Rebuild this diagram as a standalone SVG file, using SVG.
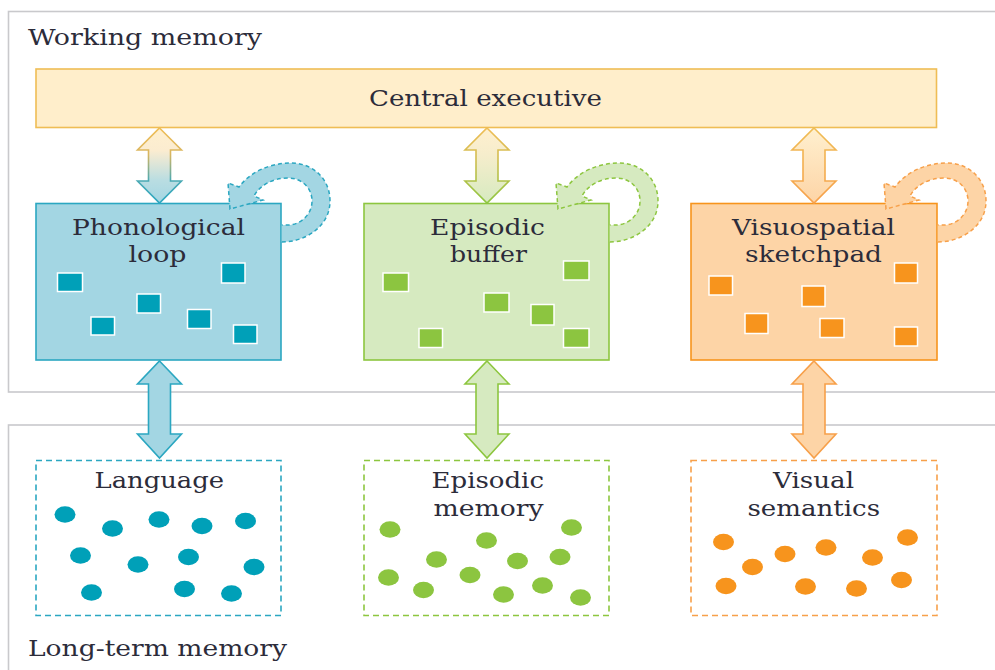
<svg xmlns="http://www.w3.org/2000/svg" xmlns:xlink="http://www.w3.org/1999/xlink" width="995" height="670" viewBox="0 0 995 670">
<style>
  .frame { fill: none; stroke: #c9c9cc; stroke-width: 1.6; }
  .lbl { font-family: "DejaVu Serif", "Liberation Serif", serif; font-size: 22px; fill: #2c2c3a; }
  .ce { fill: #ffeecb; stroke: #efbd55; stroke-width: 1.6; }
  .pbox { fill: #a3d6e3; stroke: #2ba7c1; stroke-width: 1.6; }
  .ebox { fill: #d6eac0; stroke: #8dc63f; stroke-width: 1.6; }
  .vbox { fill: #fdd4a6; stroke: #f7941d; stroke-width: 1.6; }
  .psq { fill: #00a0b8; stroke: #ffffff; stroke-width: 1.5; }
  .esq { fill: #8cc540; stroke: #ffffff; stroke-width: 1.5; }
  .vsq { fill: #f7941d; stroke: #ffffff; stroke-width: 1.5; }
  .pdash { fill: #ffffff; stroke: #2ba7c1; stroke-width: 1.6; stroke-dasharray: 6 4; }
  .edash { fill: #ffffff; stroke: #8dc63f; stroke-width: 1.6; stroke-dasharray: 6 4; }
  .vdash { fill: #ffffff; stroke: #f7a04a; stroke-width: 1.6; stroke-dasharray: 6 4; }
  .pdot { fill: #00a0b8; }
  .edot { fill: #8cc540; }
  .vdot { fill: #f7941d; }
  .ploop { fill: #a3d6e3; stroke: #2ba7c1; stroke-width: 1.5; stroke-dasharray: 4 3; }
  .eloop { fill: #d6eac0; stroke: #8dc63f; stroke-width: 1.5; stroke-dasharray: 4 3; }
  .vloop { fill: #fdd4a6; stroke: #f7a04a; stroke-width: 1.5; stroke-dasharray: 4 3; }
  .parr { fill: #a3d6e3; stroke: #2ba7c1; stroke-width: 1.6; }
  .earr { fill: #d6eac0; stroke: #8dc63f; stroke-width: 1.6; }
  .varr { fill: #fdd4a6; stroke: #f7a04a; stroke-width: 1.6; }
</style>
<defs>
  <linearGradient id="gpf" x1="0" y1="0" x2="0" y2="1">
    <stop offset="0" stop-color="#fff0cf"/><stop offset="0.3" stop-color="#fbecd0"/><stop offset="0.7" stop-color="#b9dde2"/><stop offset="1" stop-color="#a3d6e3"/>
  </linearGradient>
  <linearGradient id="gps" x1="0" y1="0" x2="0" y2="1">
    <stop offset="0" stop-color="#efbd55"/><stop offset="0.35" stop-color="#d9b660"/><stop offset="0.7" stop-color="#4aa9b3"/><stop offset="1" stop-color="#2ba7c1"/>
  </linearGradient>
  <linearGradient id="gef" x1="0" y1="0" x2="0" y2="1">
    <stop offset="0" stop-color="#fff0cf"/><stop offset="0.35" stop-color="#f6edcc"/><stop offset="1" stop-color="#d6eac0"/>
  </linearGradient>
  <linearGradient id="ges" x1="0" y1="0" x2="0" y2="1">
    <stop offset="0" stop-color="#efbd55"/><stop offset="0.4" stop-color="#d2bd50"/><stop offset="1" stop-color="#8dc63f"/>
  </linearGradient>
  <linearGradient id="gvf" x1="0" y1="0" x2="0" y2="1">
    <stop offset="0" stop-color="#fff0cf"/><stop offset="1" stop-color="#fdd4a6"/>
  </linearGradient>
  <linearGradient id="gvs" x1="0" y1="0" x2="0" y2="1">
    <stop offset="0" stop-color="#efbd55"/><stop offset="1" stop-color="#f7a04a"/>
  </linearGradient>
  <path id="upArrow" d="M0,128 L22,150 L11,150 L11,181 L22,181 L0,203 L-22,181 L-11,181 L-11,150 L-22,150 Z"/>
  <path id="lowArrow" d="M0,361 L22,384 L11,384 L11,434 L22,434 L0,458 L-22,434 L-11,434 L-11,384 L-22,384 Z"/>
  <path id="loop" d="M281.8,242 C306,242 330,226 330,201 C330,178 312,163 291,163 C270,163 250,172 239,187 L228,183 L230,209 L263,200 L254,196 C260,185 273,178 288,178 C302,178 312,188 312,201 C312,215 300,225 288,225 L281.8,225"/>
</defs>

<g id="frames">
  <rect class="frame" x="8.5" y="11.5" width="1000" height="380.5"/>
  <rect class="frame" x="8.5" y="425" width="1000" height="300"/>
  <text class="lbl" x="28" y="45" textLength="234" lengthAdjust="spacingAndGlyphs">Working memory</text>
  <text class="lbl" x="28" y="656" textLength="259" lengthAdjust="spacingAndGlyphs">Long-term memory</text>
</g>

<g id="central-executive">
  <rect class="ce" x="36" y="69" width="900.5" height="58.5"/>
  <text class="lbl" x="369" y="106" textLength="233" lengthAdjust="spacingAndGlyphs">Central executive</text>
</g>

<g id="phonological-loop">
  <rect class="pbox" x="36" y="203.5" width="245" height="156.5"/>
  <text class="lbl" x="72" y="235" textLength="173" lengthAdjust="spacingAndGlyphs">Phonological</text>
  <text class="lbl" x="128.5" y="262" textLength="58" lengthAdjust="spacingAndGlyphs">loop</text>
  <rect class="psq" x="57.5" y="273" width="25" height="18.5"/>
  <rect class="psq" x="221.5" y="263" width="23.5" height="20"/>
  <rect class="psq" x="137" y="294" width="23.5" height="19"/>
  <rect class="psq" x="91" y="317" width="23.5" height="18"/>
  <rect class="psq" x="187.5" y="309.5" width="23.5" height="19"/>
  <rect class="psq" x="233.5" y="325" width="23.5" height="18.5"/>
  <use xlink:href="#loop" class="ploop"/>
</g>

<g id="episodic-buffer">
  <rect class="ebox" x="364" y="203.5" width="245" height="156.5"/>
  <text class="lbl" x="430" y="235" textLength="115" lengthAdjust="spacingAndGlyphs">Episodic</text>
  <text class="lbl" x="450" y="262" textLength="77" lengthAdjust="spacingAndGlyphs">buffer</text>
  <rect class="esq" x="383" y="273" width="25.5" height="18.5"/>
  <rect class="esq" x="563.5" y="261" width="25.5" height="19"/>
  <rect class="esq" x="484" y="293" width="25" height="19"/>
  <rect class="esq" x="531" y="304.5" width="23" height="20.5"/>
  <rect class="esq" x="419" y="328.5" width="23.5" height="19"/>
  <rect class="esq" x="563.5" y="328.5" width="25.5" height="19"/>
  <use xlink:href="#loop" class="eloop" transform="translate(328,0)"/>
</g>

<g id="visuospatial-sketchpad">
  <rect class="vbox" x="691" y="203.5" width="246" height="156.5"/>
  <text class="lbl" x="732" y="235" textLength="163" lengthAdjust="spacingAndGlyphs">Visuospatial</text>
  <text class="lbl" x="745" y="262" textLength="137" lengthAdjust="spacingAndGlyphs">sketchpad</text>
  <rect class="vsq" x="709" y="276" width="23.5" height="19"/>
  <rect class="vsq" x="894.5" y="263" width="23" height="20"/>
  <rect class="vsq" x="802" y="286" width="23" height="20.5"/>
  <rect class="vsq" x="745" y="313.5" width="23" height="20"/>
  <rect class="vsq" x="820" y="318.5" width="24" height="19"/>
  <rect class="vsq" x="894.5" y="327" width="23" height="19"/>
  <use xlink:href="#loop" class="vloop" transform="translate(656,0)"/>
</g>

<g id="language">
  <rect class="pdash" x="36" y="460.5" width="245" height="155"/>
  <text class="lbl" x="94.5" y="488" textLength="129.5" lengthAdjust="spacingAndGlyphs">Language</text>
  <ellipse class="pdot" cx="65" cy="514.5" rx="10.5" ry="8.3"/>
  <ellipse class="pdot" cx="112.5" cy="528.5" rx="10.5" ry="8.3"/>
  <ellipse class="pdot" cx="159" cy="519.5" rx="10.5" ry="8.3"/>
  <ellipse class="pdot" cx="202" cy="526" rx="10.5" ry="8.3"/>
  <ellipse class="pdot" cx="245.5" cy="521" rx="10.5" ry="8.3"/>
  <ellipse class="pdot" cx="80.5" cy="555.5" rx="10.5" ry="8.3"/>
  <ellipse class="pdot" cx="138" cy="564.5" rx="10.5" ry="8.3"/>
  <ellipse class="pdot" cx="188.5" cy="557" rx="10.5" ry="8.3"/>
  <ellipse class="pdot" cx="254" cy="567" rx="10.5" ry="8.3"/>
  <ellipse class="pdot" cx="91.5" cy="592.5" rx="10.5" ry="8.3"/>
  <ellipse class="pdot" cx="184.5" cy="589" rx="10.5" ry="8.3"/>
  <ellipse class="pdot" cx="231.5" cy="593.5" rx="10.5" ry="8.3"/>
</g>

<g id="episodic-memory">
  <rect class="edash" x="364" y="460.5" width="245" height="155"/>
  <text class="lbl" x="431.5" y="488" textLength="112.5" lengthAdjust="spacingAndGlyphs">Episodic</text>
  <text class="lbl" x="433.5" y="516" textLength="110" lengthAdjust="spacingAndGlyphs">memory</text>
  <ellipse class="edot" cx="390" cy="529.5" rx="10.5" ry="8.3"/>
  <ellipse class="edot" cx="486.5" cy="540.5" rx="10.5" ry="8.3"/>
  <ellipse class="edot" cx="571.5" cy="527.5" rx="10.5" ry="8.3"/>
  <ellipse class="edot" cx="436.5" cy="559.5" rx="10.5" ry="8.3"/>
  <ellipse class="edot" cx="517.5" cy="561" rx="10.5" ry="8.3"/>
  <ellipse class="edot" cx="560" cy="557" rx="10.5" ry="8.3"/>
  <ellipse class="edot" cx="388.5" cy="577.5" rx="10.5" ry="8.3"/>
  <ellipse class="edot" cx="470" cy="575" rx="10.5" ry="8.3"/>
  <ellipse class="edot" cx="423.5" cy="590" rx="10.5" ry="8.3"/>
  <ellipse class="edot" cx="503.5" cy="594.5" rx="10.5" ry="8.3"/>
  <ellipse class="edot" cx="542.5" cy="585.5" rx="10.5" ry="8.3"/>
  <ellipse class="edot" cx="580.5" cy="597.5" rx="10.5" ry="8.3"/>
</g>

<g id="visual-semantics">
  <rect class="vdash" x="691" y="460.5" width="246" height="155"/>
  <text class="lbl" x="773" y="488" textLength="81" lengthAdjust="spacingAndGlyphs">Visual</text>
  <text class="lbl" x="747.5" y="516" textLength="132.5" lengthAdjust="spacingAndGlyphs">semantics</text>
  <ellipse class="vdot" cx="723.5" cy="542" rx="10.5" ry="8.3"/>
  <ellipse class="vdot" cx="785" cy="554" rx="10.5" ry="8.3"/>
  <ellipse class="vdot" cx="826" cy="547.5" rx="10.5" ry="8.3"/>
  <ellipse class="vdot" cx="907.5" cy="537.5" rx="10.5" ry="8.3"/>
  <ellipse class="vdot" cx="752.5" cy="567" rx="10.5" ry="8.3"/>
  <ellipse class="vdot" cx="872.5" cy="557.5" rx="10.5" ry="8.3"/>
  <ellipse class="vdot" cx="726" cy="586" rx="10.5" ry="8.3"/>
  <ellipse class="vdot" cx="805.5" cy="586.5" rx="10.5" ry="8.3"/>
  <ellipse class="vdot" cx="856.5" cy="588.5" rx="10.5" ry="8.3"/>
  <ellipse class="vdot" cx="901.5" cy="580" rx="10.5" ry="8.3"/>
</g>

<g id="connectors">
  <use xlink:href="#upArrow" transform="translate(159.5,0)" fill="url(#gpf)" stroke="url(#gps)" stroke-width="1.6"/>
  <use xlink:href="#upArrow" transform="translate(487,0)" fill="url(#gef)" stroke="url(#ges)" stroke-width="1.6"/>
  <use xlink:href="#upArrow" transform="translate(814,0)" fill="url(#gvf)" stroke="url(#gvs)" stroke-width="1.6"/>
  <use xlink:href="#lowArrow" class="parr" transform="translate(159.5,0)"/>
  <use xlink:href="#lowArrow" class="earr" transform="translate(487,0)"/>
  <use xlink:href="#lowArrow" class="varr" transform="translate(814,0)"/>
</g>
</svg>
